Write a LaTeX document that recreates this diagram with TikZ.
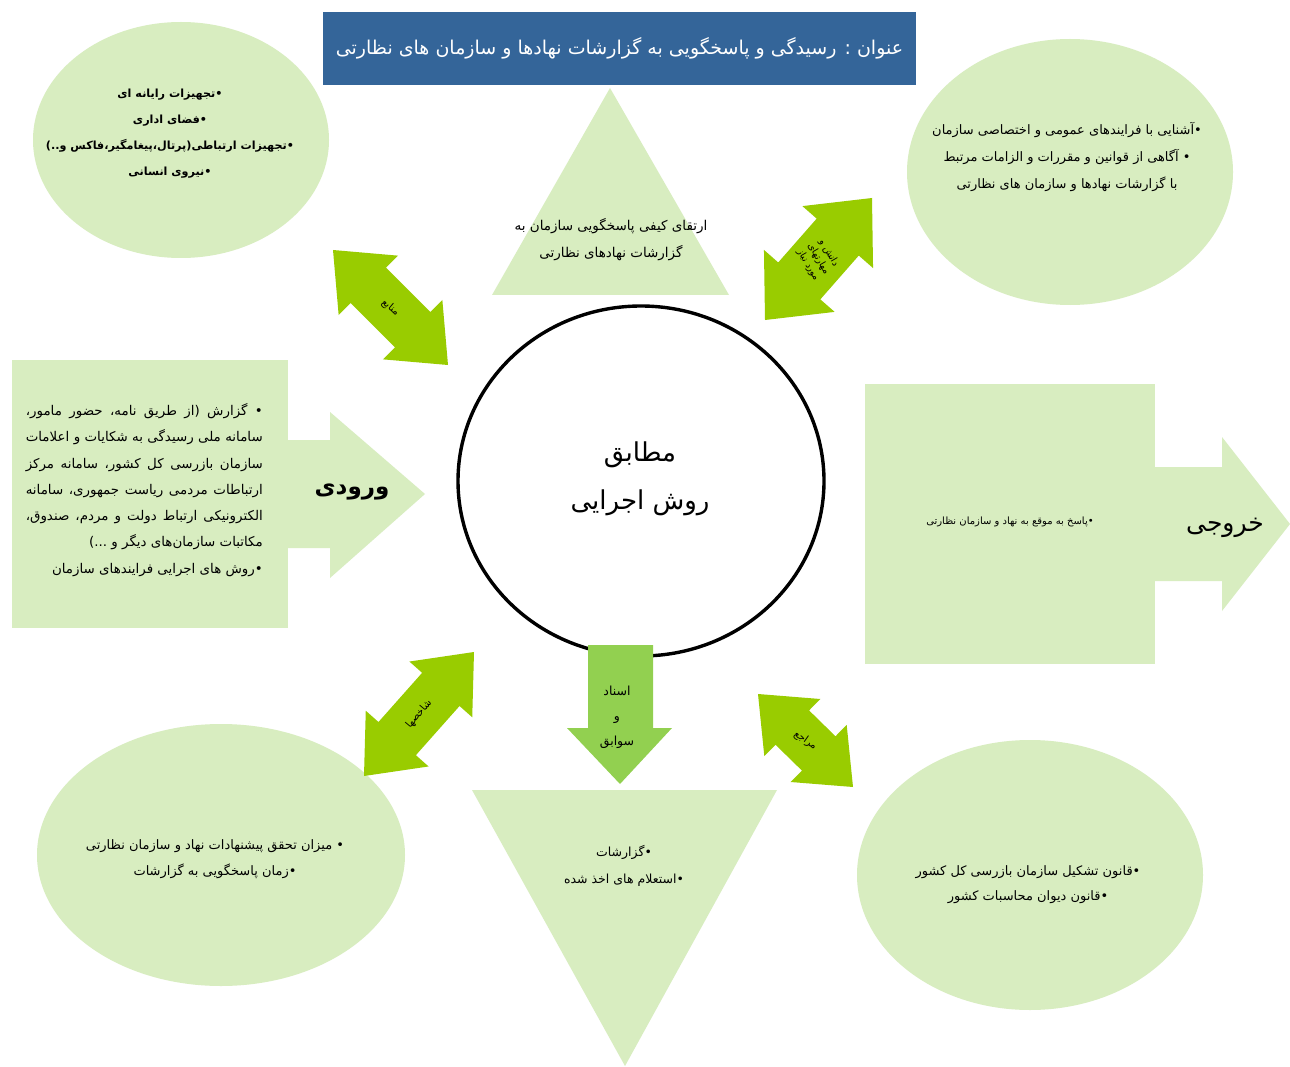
\documentclass[tikz,border=0pt]{standalone}
\usepackage{fontspec}
\usetikzlibrary{calc,shapes.geometric}
\TeXXeTstate=1
\newfontfamily\fafont[Script=Arabic]{DejaVu Sans}
\newcommand{\fa}[1]{{\fafont\beginR #1\endR}}
\newcommand{\jl}[1]{\makebox[237pt][s]{\fa{#1}}}
\definecolor{lgreen}{RGB}{216,237,192}
\definecolor{tblue}{RGB}{52,101,153}
\definecolor{agreen}{RGB}{153,204,0}
\definecolor{dgreen}{RGB}{146,208,80}
% double arrow between two named tips: #1,#2 tips, #3 head length, #4 shaft half width, #5 head half width
\newcommand{\dblarr}[5]{%
\fill[agreen] (#1)
 -- ($ ($(#1)!#3!(#2)$)!#5!90:(#2) $)
 -- ($ ($(#1)!#3!(#2)$)!#4!90:(#2) $)
 -- ($ ($(#2)!#3!(#1)$)!#4!-90:(#1) $)
 -- ($ ($(#2)!#3!(#1)$)!#5!-90:(#1) $)
 -- (#2)
 -- ($ ($(#2)!#3!(#1)$)!#5!90:(#1) $)
 -- ($ ($(#2)!#3!(#1)$)!#4!90:(#1) $)
 -- ($ ($(#1)!#3!(#2)$)!#4!-90:(#2) $)
 -- ($ ($(#1)!#3!(#2)$)!#5!-90:(#2) $)
 -- cycle;}
\tikzset{
  txt/.style={align=center, inner sep=0pt, font=\fontsize{13}{26}\selectfont},
  btxt/.style={txt, font=\fontsize{11.2}{26}\selectfont\bfseries},
  big/.style={inner sep=0pt, font=\fontsize{25}{48}\selectfont},
  lbl/.style={inner sep=0pt, align=center, font=\fontsize{10}{12}\selectfont},
  blob/.style={ellipse, fill=lgreen, inner sep=0pt},
}
\begin{document}
\begin{tikzpicture}[x=1pt,y=-1pt]
\useasboundingbox (0,0) rectangle (1290,1067);
\fill[white] (0,0) rectangle (1290,1067);

% triangles
\fill[lgreen] (610,88) coordinate (ta) -- (729,295) coordinate (tb) -- (492,295) coordinate (tc) -- cycle;
\fill[lgreen] (472,790) coordinate (ba) -- (777,790) coordinate (bb) -- (625,1066) coordinate (bc) -- cycle;

% ellipses
\node[blob, minimum width=296pt, minimum height=236pt] (res) at (181,140) {};
\node[blob, minimum width=326pt, minimum height=266pt] (know) at (1070,172) {};
\node[blob, minimum width=368pt, minimum height=262pt] (ind) at (221,855) {};
\node[blob, minimum width=346pt, minimum height=270pt] (ref) at (1030,875) {};

% input box with arrow
\fill[lgreen] (12,360) rectangle (288,628);
\fill[lgreen] (280,440) -- (330,440) -- (330,412) -- (425,494) -- (330,578) -- (330,548) -- (280,548) -- cycle;
% output box with arrow
\fill[lgreen] (865,384) rectangle (1155,664);
\fill[lgreen] (1150,467) -- (1222,467) -- (1222,437) -- (1290,524) -- (1222,611) -- (1222,581) -- (1150,581) -- cycle;

% title
\node[fill=tblue, minimum width=593pt, minimum height=73pt, inner sep=0pt, text=white,
      font=\fontsize{19}{24}\selectfont] (title) at (619.5,48.5)
  {\fa{عنوان : رسیدگی و پاسخگویی به  گزارشات نهادها و سازمان های نظارتی}};

% center circle
\node[draw, ellipse, line width=3.4pt, fill=white, minimum width=366pt, minimum height=350pt] (core) at (641,481) {};

% down arrow
\fill[dgreen] (588,645) -- (653,645) -- (653,728) -- (672,728) -- (620,784) coordinate (dtip) -- (567,728) -- (588,728) -- cycle;

% double arrows
\coordinate (a1) at (333,250); \coordinate (b1) at (448,365);
\coordinate (a2) at (765,320); \coordinate (b2) at (872,198);
\coordinate (a3) at (364,776); \coordinate (b3) at (474,652);
\coordinate (a4) at (758,694); \coordinate (b4) at (853,787);
\dblarr{a1}{b1}{50pt}{25pt}{42pt}
\dblarr{a2}{b2}{52pt}{28pt}{47pt}
\dblarr{a3}{b3}{50pt}{25pt}{42pt}
\dblarr{a4}{b4}{48pt}{24pt}{40pt}

% texts
\node[btxt] (restxt) at (170,134) {\fa{•تجهیزات رایانه ای}\\ \fa{•فضای اداری}\\ \fa{•تجهیزات ارتباطی(پرتال،پیغامگیر،فاکس و..)}\\ \fa{•نیروی انسانی}};
\node[txt, font=\fontsize{13.5}{27}\selectfont] (goal) at (611,240) {\fa{ارتقای کیفی پاسخگویی سازمان به}\\ \fa{گزارشات نهادهای نظارتی}};
\node[txt, font=\fontsize{13}{27}\selectfont] (knowtxt) at (1067,157) {\fa{•آشنایی با فرایندهای عمومی و اختصاصی سازمان}\\ \fa{• آگاهی از قوانین و مقررات و الزامات مرتبط}\\ \fa{با گزارشات نهادها و سازمان های نظارتی}};
\node[txt, align=right, anchor=east, font=\fontsize{13.4}{26.3}\selectfont] (intxt) at (263,490)
 {\jl{• گزارش (از طریق نامه، حضور مامور،}\\
  \jl{سامانه ملی رسیدگی به شکایات و اعلامات}\\
  \jl{سازمان بازرسی کل کشور، سامانه مرکز}\\
  \jl{ارتباطات مردمی ریاست جمهوری، سامانه}\\
  \jl{الکترونیکی ارتباط دولت و مردم، صندوق،}\\
  \fa{مکاتبات سازمان‌های دیگر و ...)}\\
  \fa{•روش های اجرایی فرایندهای سازمان}};
\node[big, font=\fontsize{23}{30}\selectfont\bfseries] (inlbl) at (352,492) {\fa{ورودی}};
\node[big] (outlbl) at (1225,528) {\fa{خروجی}};
\node[txt, font=\fontsize{10}{14}\selectfont] (outtxt) at (1010,522) {\fa{•پاسخ به موقع به نهاد و سازمان نظارتی}};
\node[big, align=center, font=\fontsize{26}{48}\selectfont] (coretxt) at (640,479) {\fa{مطابق}\\ \fa{روش اجرایی}};
\node[txt, font=\fontsize{12.5}{25}\selectfont] (doc) at (617,717) {\fa{اسناد}\\ \fa{و}\\ \fa{سوابق}};
\node[txt, font=\fontsize{12.5}{27}\selectfont] (reptxt) at (624,866) {\fa{•گزارشات}\\ \fa{•استعلام های اخذ شده}};
\node[txt] (indtxt) at (215,859) {\fa{• میزان تحقق پیشنهادات نهاد و سازمان نظارتی}\\ \fa{•زمان پاسخگویی به  گزارشات}};
\node[txt, font=\fontsize{13}{25}\selectfont] (reftxt) at (1028,885) {\fa{•قانون تشکیل سازمان بازرسی کل کشور}\\ \fa{•قانون دیوان محاسبات کشور}};

% arrow labels
\node[lbl, rotate=-40] (l1) at ($(a1)!0.5!(b1)$) {\fa{منابع}};
\node[lbl, rotate=-60, font=\fontsize{9.5}{12}\selectfont] (l2) at ($(a2)!0.5!(b2)$) {\fa{دانش و}\\ \fa{مهارتهای}\\ \fa{مورد نیاز}};
\node[lbl, rotate=50] (l3) at ($(a3)!0.5!(b3)$) {\fa{شاخصها}};
\node[lbl, rotate=-35] (l4) at ($(a4)!0.5!(b4)$) {\fa{مراجع}};
\end{tikzpicture}
\end{document}
